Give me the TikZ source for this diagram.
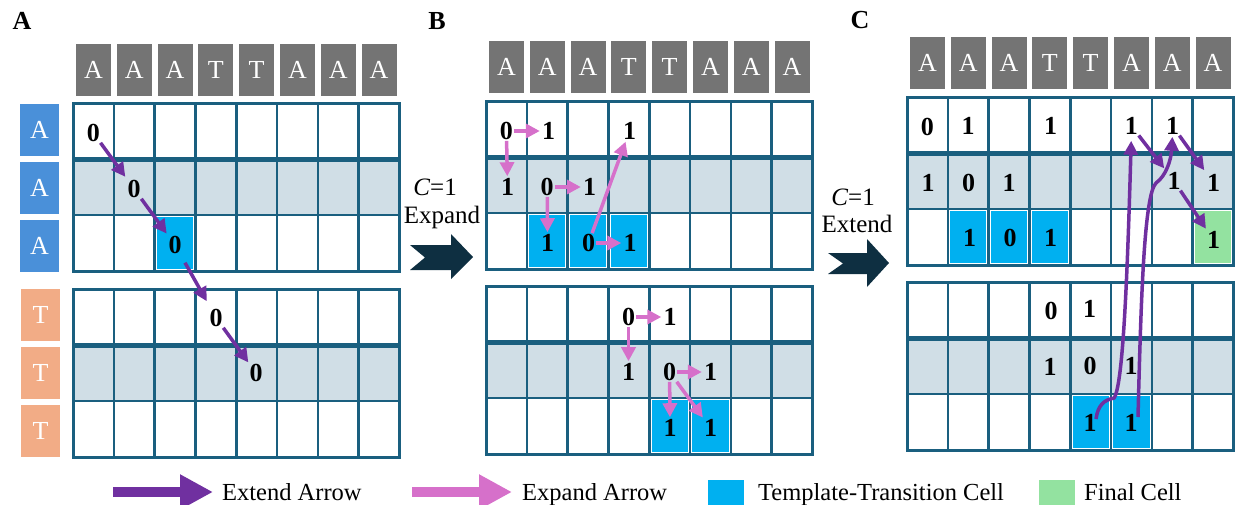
\documentclass[tikz,border=0pt]{standalone}
\usepackage{fontspec}
\setmainfont{Liberation Serif}
\usetikzlibrary{arrows.meta}
\definecolor{hdr}{HTML}{747474}
\definecolor{lblA}{HTML}{4A90D9}
\definecolor{lblT}{HTML}{F2AC86}
\definecolor{gline}{HTML}{1A5F7F}
\definecolor{rowf}{HTML}{D0DEE6}
\definecolor{tcell}{HTML}{00B0F0}
\definecolor{fcell}{HTML}{93E2A0}
\definecolor{extc}{HTML}{7030A0}
\definecolor{expc}{HTML}{D670CA}
\definecolor{chev}{HTML}{0E2F41}
\newcommand{\fs}[1]{\fontsize{#1}{#1}\selectfont}
\newcommand{\tgrid}[2]{%
  \fill[rowf] ({#1},{#2+56}) rectangle ({#1+326.4},{#2+112});
}
\newcommand{\tlines}[2]{%
  \foreach \k in {1,...,7} \draw[gridln] ({#1+\k*40.8},{#2}) -- ({#1+\k*40.8},{#2+168});
  \draw[gridln] ({#1},{#2+112}) -- ({#1+326.4},{#2+112});
  \draw[gridthk] ({#1},{#2+56}) -- ({#1+326.4},{#2+56});
  \draw[gridln,line width=3pt] ({#1},{#2}) rectangle ({#1+326.4},{#2+168});
}
\newcommand{\hcell}[5]{%
  \filldraw[fill=#5,draw=white,line width=1pt] ({#1+(#3-1)*40.8+1.8},{#2+(#4-1)*56+1.8}) rectangle ({#1+#3*40.8-1.8},{#2+#4*56-1.8});
}
\begin{document}
\begin{tikzpicture}[x=1pt,y=-1pt,
 hdrbox/.style={fill=hdr,minimum width=35pt,minimum height=52pt,inner sep=0pt,text=white,font=\fs{26}},
 lblbox/.style={minimum width=39pt,minimum height=52pt,inner sep=0pt,text=white,font=\fs{26}},
 numtxt/.style={inner sep=0pt,font=\fs{26}\bfseries},
 extarr/.style={draw=extc,line width=3.5pt,-{Triangle[length=14pt,width=14pt]},shorten >=3pt,shorten <=1pt},
 exparr/.style={draw=expc,line width=3.5pt,-{Triangle[length=14pt,width=14pt]},shorten >=2pt,shorten <=1pt},
 gridln/.style={draw=gline,line width=2.6pt},
 gridthk/.style={draw=gline,line width=5pt},
 ptxt/.style={font=\fs{26}\bfseries,inner sep=0pt},
 ctxt/.style={font=\fs{25},inner sep=0pt,anchor=base},
 legtxt/.style={font=\fs{24.5},inner sep=0pt,anchor=base west}
]
\useasboundingbox (0,0) rectangle (1235,504);

% ---------- panel labels
\node[ptxt] (pA) at (22,21) {A};
\node[ptxt] (pB) at (437,21) {B};
\node[ptxt] (pC) at (860,20) {C};

% ---------- headers
\foreach \L [count=\i] in {A,A,A,T,T,A,A,A} {
  \node[hdrbox] (hA\i) at ({93.4+(\i-1)*40.8},70) {\L};
  \node[hdrbox] (hB\i) at ({506.4+(\i-1)*40.8},67) {\L};
  \node[hdrbox] (hC\i) at ({927.4+(\i-1)*40.8},62.5) {\L};
}
% ---------- row labels
\foreach \y [count=\i] in {130,188,246} \node[lblbox,fill=lblA] (lA\i) at (39.5,\y) {A};
\foreach \y [count=\i] in {315,373,431} \node[lblbox,fill=lblT] (lT\i) at (40.5,\y) {T};

% ---------- grids
\tgrid{73}{103}\tgrid{73}{289}
\tgrid{486}{101}\tgrid{486}{286}
\tgrid{907}{97}\tgrid{907}{282}
\tlines{73}{103}\tlines{73}{289}
\tlines{486}{101}\tlines{486}{286}
\tlines{907}{97}\tlines{907}{282}
\hcell{73}{103}{3}{3}{tcell}
\hcell{486}{101}{2}{3}{tcell}\hcell{486}{101}{3}{3}{tcell}\hcell{486}{101}{4}{3}{tcell}
\hcell{486}{286}{5}{3}{tcell}\hcell{486}{286}{6}{3}{tcell}
\hcell{907}{97}{2}{3}{tcell}\hcell{907}{97}{3}{3}{tcell}\hcell{907}{97}{4}{3}{tcell}
\hcell{907}{97}{8}{3}{fcell}
\hcell{907}{282}{5}{3}{tcell}\hcell{907}{282}{6}{3}{tcell}

% ---------- panel A numbers
\node[numtxt] (a1) at (93.4,133) {0};
\node[numtxt] (a2) at (134.2,189) {0};
\node[numtxt] (a3) at (175,245) {0};
\node[numtxt] (a4) at (216.2,318) {0};
\node[numtxt] (a5) at (256,373) {0};
\draw[extarr,shorten >=4pt] (a1) -- (a2);
\draw[extarr] (a2) -- (a3);
\draw[extarr,shorten <=10pt,shorten >=9pt] (a3) -- (a4);
\draw[extarr,shorten >=2pt] (a4) -- (a5);

% ---------- panel B numbers (top)
\node[numtxt] (b11) at (506.4,131) {0};
\node[numtxt] (b12) at (548.5,131) {1};
\node[numtxt] (b14) at (629.5,131) {1};
\node[numtxt] (b21) at (507.5,187) {1};
\node[numtxt] (b22) at (547.2,187) {0};
\node[numtxt] (b23) at (589.5,187) {1};
\node[numtxt] (b32) at (547.5,243) {1};
\node[numtxt] (b33) at (588.5,243) {0};
\node[numtxt] (b34) at (630,243) {1};
\draw[exparr] (b11) -- (b12);
\draw[exparr] (b11) -- (b21);
\draw[exparr] (b22) -- (b23);
\draw[exparr] (b22) -- (b32);
\draw[exparr] (b33) -- (b34);
\draw[exparr] (b33) -- (b14);
% ---------- panel B numbers (bottom)
\node[numtxt] (bb14) at (628.5,317) {0};
\node[numtxt] (bb15) at (670,317) {1};
\node[numtxt] (bb24) at (628.5,372) {1};
\node[numtxt] (bb25) at (669.6,372) {0};
\node[numtxt] (bb26) at (710.5,372) {1};
\node[numtxt] (bb35) at (670,428) {1};
\node[numtxt] (bb36) at (710.5,428) {1};
\draw[exparr] (bb14) -- (bb15);
\draw[exparr] (bb14) -- (bb24);
\draw[exparr] (bb25) -- (bb26);
\draw[exparr] (bb25) -- (bb35);
\draw[exparr] (bb25) -- (bb36);

% ---------- panel C numbers (top)
\node[numtxt] (c11) at (927.4,127) {0};
\node[numtxt] (c12) at (968.2,126) {1};
\node[numtxt] (c14) at (1050.5,126) {1};
\node[numtxt] (c16) at (1131.4,126) {1};
\node[numtxt] (c17) at (1172.5,126) {1};
\node[numtxt] (c21) at (928,183) {1};
\node[numtxt] (c22) at (968.5,183) {0};
\node[numtxt] (c23) at (1009,183) {1};
\node[numtxt] (c27) at (1174,181) {1};
\node[numtxt] (c28) at (1213.5,183) {1};
\node[numtxt] (c32) at (969.5,238) {1};
\node[numtxt] (c33) at (1010,238) {0};
\node[numtxt] (c34) at (1050.5,238) {1};
\node[numtxt] (c38) at (1213.5,240) {1};
% ---------- panel C numbers (bottom)
\node[numtxt] (cb14) at (1051,311) {0};
\node[numtxt] (cb15) at (1089.5,309) {1};
\node[numtxt] (cb24) at (1050,367) {1};
\node[numtxt] (cb25) at (1090,366) {0};
\node[numtxt] (cb26) at (1131,366) {1};
\node[numtxt] (cb35) at (1090,423) {1};
\node[numtxt] (cb36) at (1131,423) {1};
\draw[extarr,shorten >=5pt] (c16) -- (c27);
\draw[extarr,shorten >=5pt] (c17) -- (c28);
\draw[extarr,shorten >=3pt] (c27) -- (c38);
\draw[extarr,shorten >=6pt,shorten <=0pt] ([shift={(6,-4)}]cb35.center) .. controls (1098,405) and (1104,400) .. (1114,398) .. controls (1124,385) and (1128,250) .. (c16.south);
\draw[extarr,shorten >=2pt,shorten <=0pt] ([shift={(7,-6)}]cb36.center) .. controls (1141,300) and (1144,195) .. (1156,183) .. controls (1166,176) and (1171,160) .. (c17.south);

% ---------- transitions
\node[ctxt] (cAB) at (435,195) {\textit{C}=1};
\node[ctxt] (eAB) at (442,223) {Expand};
\fill[chev] (410,245) -- (451,245) -- (451,234) -- (473,257) -- (451,279) -- (451,270) -- (410,270) -- (425,257.5) -- cycle;
\node[ctxt] (cBC) at (853,205) {\textit{C}=1};
\node[ctxt] (eBC) at (857,232) {Extend};
\fill[chev] (828,253) -- (867,253) -- (867,239) -- (889,263) -- (867,287) -- (867,274) -- (828,274) -- (843,263.5) -- cycle;

% ---------- legend
\coordinate (le1) at (113,492); \coordinate (le2) at (213,492);
\draw[draw=extc,line width=10pt,-{Triangle[length=33pt,width=33pt]}] (le1) -- (le2);
\node[legtxt] (lt1) at (222,500) {Extend Arrow};
\coordinate (lx1) at (412,492); \coordinate (lx2) at (512,492);
\draw[draw=expc,line width=10pt,-{Triangle[length=33pt,width=33pt]}] (lx1) -- (lx2);
\node[legtxt] (lt2) at (522,500) {Expand Arrow};
\fill[tcell] (708,480) rectangle (744,506);
\node[legtxt] (lt3) at (758,500) {Template-Transition Cell};
\fill[fcell] (1039,480) rectangle (1075,506);
\node[legtxt] (lt4) at (1084,500) {Final Cell};
\end{tikzpicture}
\end{document}
